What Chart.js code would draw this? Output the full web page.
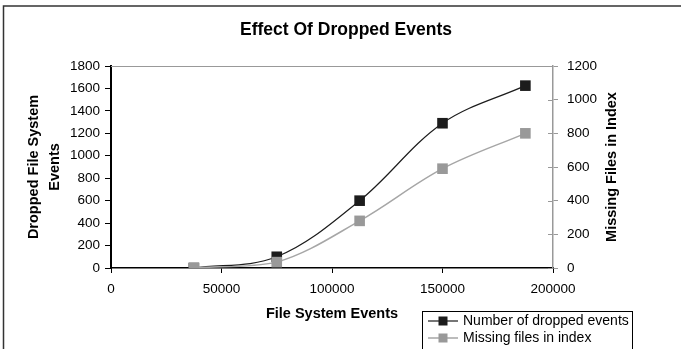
<!DOCTYPE html>
<html>
<head>
<meta charset="utf-8">
<script src="https://cdn.jsdelivr.net/npm/chart.js@4.4.0/dist/chart.umd.min.js"></script>
<style>
html, body { margin: 0; padding: 0; background: #fff; }
</style>
</head>
<body>
<canvas id="droppedChart" width="681" height="349"></canvas>
<script>
const fileSystemEvents = [37500, 75000, 112500, 150000, 187500];
const droppedEvents = [0, 100, 600, 1290, 1625];
const missingFiles = [0, 35, 280, 590, 800];
const chartTitle = 'Effect Of Dropped Events';
const seriesLabels = ['Number of dropped events', 'Missing files in index'];
const xAxisTitle = 'File System Events';
const leftAxisTitle = ['Dropped File System', 'Events'];
const rightAxisTitle = 'Missing Files in Index';

const FONT = "'Liberation Sans', Arial, sans-serif";
Chart.defaults.font.family = FONT;
Chart.defaults.color = '#000';

const toPoints = (vals) => vals.map((v, i) => ({ x: fileSystemEvents[i], y: v }));
const plain = (v) => String(v);

// frame, title, plot border, rotated right title and the boxed legend
const decorations = {
    id: 'decorations',
    afterDraw(chart) {
        const { ctx, chartArea: a } = chart;
        ctx.save();

        ctx.strokeStyle = '#333';
        ctx.lineWidth = 1.5;
        ctx.beginPath();
        ctx.moveTo(3.5, 349);
        ctx.lineTo(3.5, 6);
        ctx.lineTo(681, 6);
        ctx.stroke();

        ctx.fillStyle = '#000';
        ctx.font = 'bold 17.5px ' + FONT;
        ctx.textAlign = 'center';
        ctx.textBaseline = 'middle';
        ctx.fillText(chartTitle, 346, 30);

        ctx.strokeStyle = '#999';
        ctx.lineWidth = 1;
        ctx.beginPath();
        ctx.moveTo(a.left, a.top + 0.5);
        ctx.lineTo(a.right, a.top + 0.5);
        ctx.stroke();

        // inner half of the secondary axis ticks
        const y1 = chart.scales.y1;
        ctx.strokeStyle = '#999';
        ctx.lineWidth = 1;
        y1.ticks.forEach(t => {
            const py = Math.round(y1.getPixelForValue(t.value)) + 0.5;
            ctx.beginPath();
            ctx.moveTo(a.right - 5, py);
            ctx.lineTo(a.right, py);
            ctx.stroke();
        });

        ctx.save();
        ctx.translate(612, (a.top + a.bottom) / 2);
        ctx.rotate(-Math.PI / 2);
        ctx.font = 'bold 14.5px ' + FONT;
        ctx.fillStyle = '#000';
        ctx.fillText(rightAxisTitle, 0, 0);
        ctx.restore();

        // legend
        ctx.strokeStyle = '#000';
        ctx.lineWidth = 1;
        ctx.strokeRect(422.5, 311.5, 210, 50);
        ctx.font = '14px ' + FONT;
        ctx.textAlign = 'left';
        const legendOrder = [1, 0];
        legendOrder.forEach((di, row) => {
            const ds = chart.data.datasets[di];
            const ly = 321 + row * 17;
            ctx.strokeStyle = ds.borderColor;
            ctx.lineWidth = ds.borderWidth;
            ctx.beginPath();
            ctx.moveTo(428, ly);
            ctx.lineTo(458, ly);
            ctx.stroke();
            ctx.fillStyle = ds.pointBackgroundColor;
            ctx.fillRect(438.5, ly - 4.5, 9, 9);
            ctx.fillStyle = '#000';
            ctx.fillText(ds.label, 463, ly + 0.5);
        });

        ctx.restore();
    }
};

new Chart(document.getElementById('droppedChart'), {
    type: 'line',
    data: {
        datasets: [{
            label: seriesLabels[1],
            data: toPoints(missingFiles),
            yAxisID: 'y1',
            borderColor: '#a6a6a6',
            borderWidth: 1.5,
            pointBackgroundColor: '#999999',
            pointBorderWidth: 0,
            pointStyle: 'rect',
            pointRadius: 7.5,
            tension: 0.35,
            order: 0
        }, {
            label: seriesLabels[0],
            data: toPoints(droppedEvents),
            yAxisID: 'y',
            borderColor: '#1c1c1c',
            borderWidth: 1.2,
            pointBackgroundColor: '#1c1c1c',
            pointBorderWidth: 0,
            pointStyle: 'rect',
            pointRadius: 7.5,
            tension: 0.35,
            order: 1
        }]
    },
    options: {
        responsive: false,
        animation: false,
        layout: { padding: { top: 66, left: 0, right: 0, bottom: 0 } },
        plugins: {
            legend: { display: false },
            title: { display: false },
            tooltip: { enabled: false }
        },
        scales: {
            x: {
                type: 'linear',
                position: 'bottom',
                min: 0,
                max: 200000,
                ticks: { stepSize: 50000, callback: plain, font: { size: 13.5 }, padding: 8, maxRotation: 0 },
                grid: { drawOnChartArea: false, tickLength: 5, color: '#000' },
                border: { color: '#000', width: 1.5 },
                title: { display: true, text: xAxisTitle, font: { size: 14.5, weight: 'bold' }, padding: { top: 0, bottom: 26 } },
                afterFit: (s) => { s.height = 81; }
            },
            y: {
                position: 'left',
                min: 0,
                max: 1800,
                ticks: { stepSize: 200, callback: plain, font: { size: 13.5 }, padding: 5 },
                grid: { drawOnChartArea: false, tickLength: 6, color: '#000' },
                border: { color: '#000', width: 2 },
                title: { display: true, text: leftAxisTitle, font: { size: 14.5, weight: 'bold', lineHeight: 1.45 }, padding: { top: 23.5, bottom: 0 } },
                afterFit: (s) => { s.width = 111; }
            },
            y1: {
                position: 'right',
                min: 0,
                max: 1200,
                ticks: { stepSize: 200, callback: plain, font: { size: 13.5 }, padding: 9 },
                grid: { drawOnChartArea: false, tickLength: 5, color: '#999' },
                border: { color: '#999', width: 1.5 },
                afterFit: (s) => { s.width = 128; }
            }
        }
    },
    plugins: [decorations]
});
</script>
</body>
</html>
